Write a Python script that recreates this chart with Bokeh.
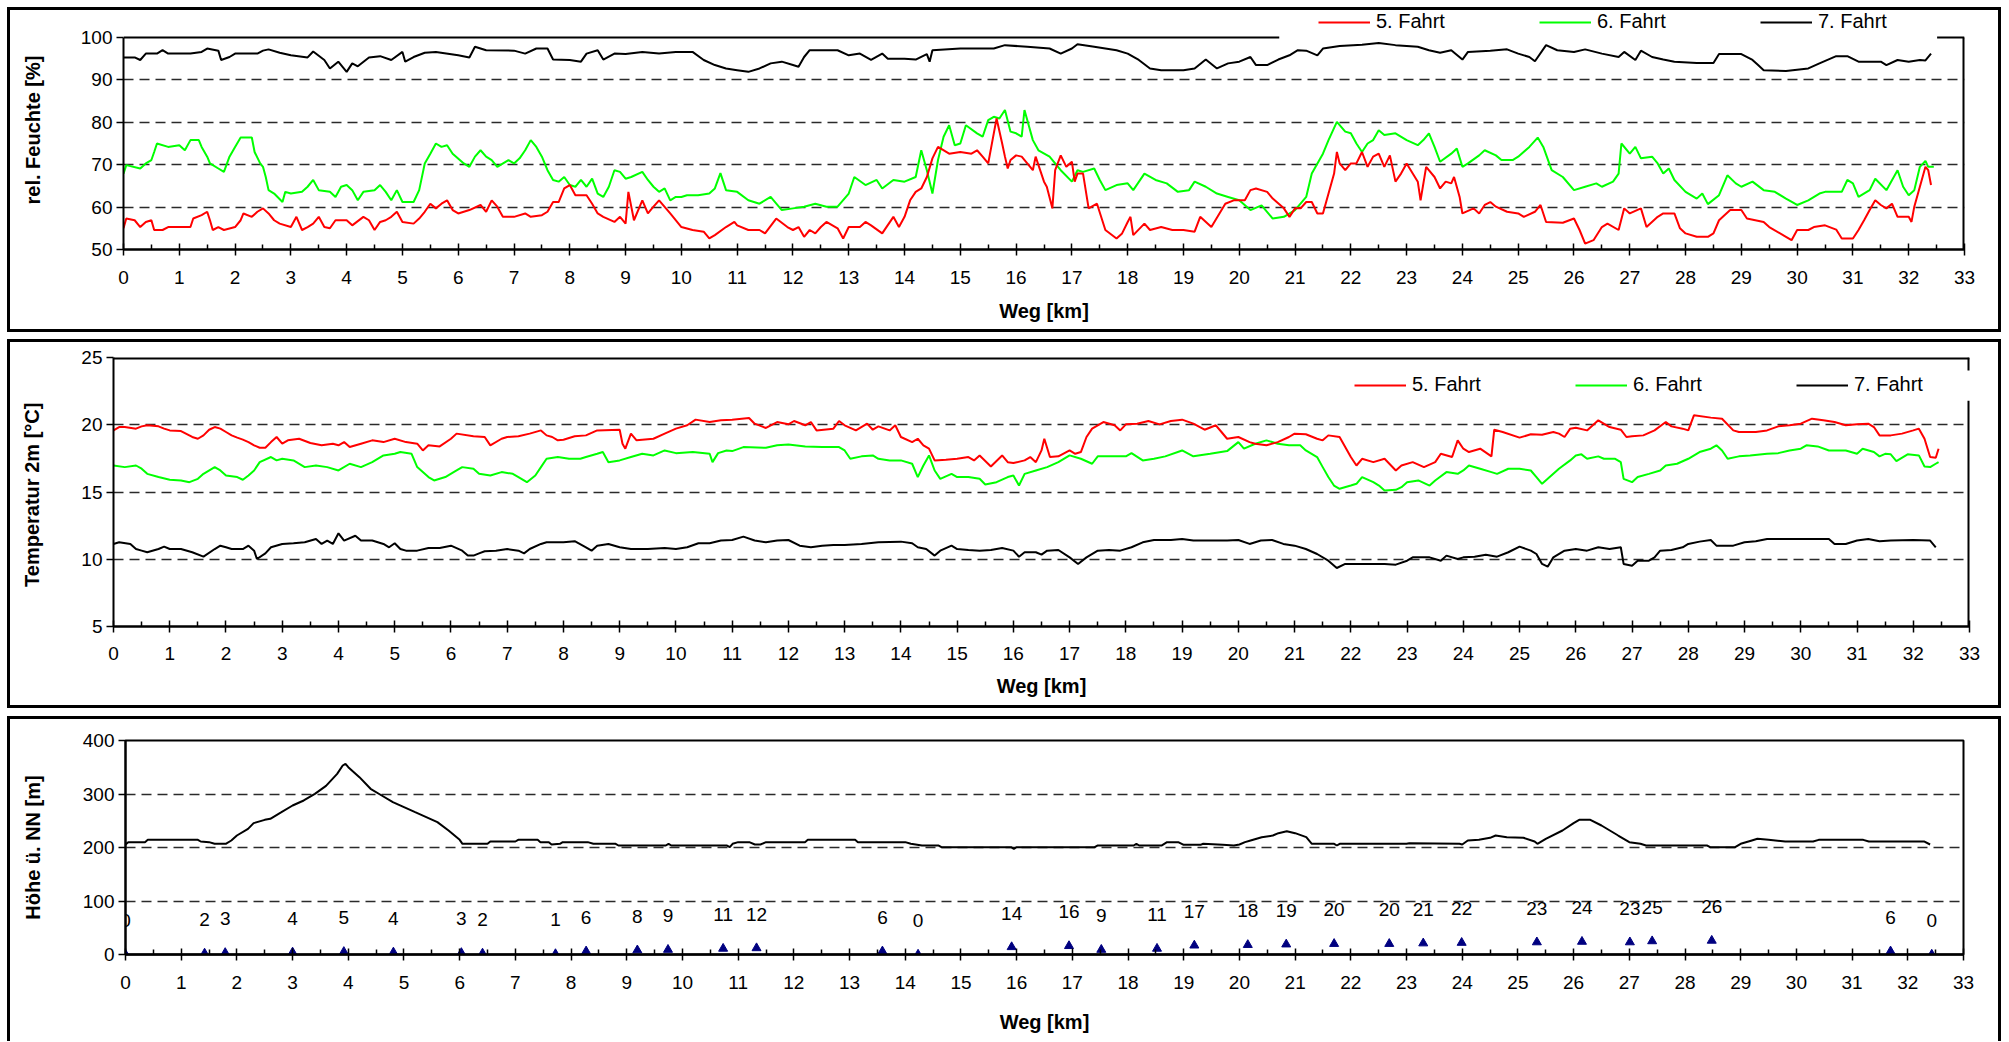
from bokeh.plotting import figure
from bokeh.models import Range1d, FixedTicker, Legend, LegendItem
from bokeh.embed import file_html
from bokeh.resources import INLINE
from bokeh.core.properties import value

FONT = "Liberation Sans"
RED, GREEN, BLACK, NAVY = "#FF0000", "#00FF00", "#000000", "#000080"

x_ticks = list(range(0, 34))
hum_ticks = [50, 60, 70, 80, 90, 100]
temp_ticks = [5, 10, 15, 20, 25]
elev_ticks = [0, 100, 200, 300, 400]
legend_labels = ["5. Fahrt", "6. Fahrt", "7. Fahrt"]

# ---- rel. Feuchte [%]  (km, value)
hum5 = [(0,55.0),(0.05,57.3),(0.2,56.9),(0.3,55.3),(0.4,56.5),(0.5,56.9),(0.55,54.6),(0.7,54.6),(0.8,55.3),(1.2,55.3),(1.25,57.3),(1.4,58.1),(1.5,58.9),(1.55,56.9),(1.6,54.6),(1.7,55.3),(1.8,54.6),(2.0,55.3),(2.1,56.9),(2.15,58.5),(2.3,57.7),(2.4,58.9),(2.5,59.7),(2.6,58.5),(2.7,56.9),(2.8,56.1),(3.0,55.3),(3.1,57.7),(3.2,54.6),(3.3,55.3),(3.4,56.1),(3.5,57.7),(3.6,55.3),(3.7,55.0),(3.8,56.9),(4.0,56.9),(4.1,55.7),(4.3,57.7),(4.4,56.9),(4.5,54.6),(4.6,56.5),(4.7,56.9),(4.8,57.7),(4.9,58.9),(5.0,56.5),(5.2,56.1),(5.3,57.3),(5.4,58.9),(5.5,60.8),(5.6,59.7),(5.7,60.8),(5.8,61.6),(5.9,59.3),(6.0,58.5),(6.2,59.3),(6.4,60.5),(6.5,58.9),(6.6,61.6),(6.7,60.1),(6.8,57.7),(7.0,57.7),(7.2,58.5),(7.3,57.7),(7.5,58.1),(7.6,58.9),(7.7,61.2),(7.8,61.2),(7.9,64.4),(8.0,65.2),(8.1,62.8),(8.3,62.8),(8.4,60.8),(8.5,58.5),(8.6,57.7),(8.8,56.5),(8.9,57.7),(9.0,56.1),(9.05,63.6),(9.15,56.9),(9.3,61.6),(9.4,58.5),(9.5,60.1),(9.6,61.6),(9.8,58.5),(10.0,55.3),(10.2,54.6),(10.4,54.2),(10.5,52.6),(10.6,53.4),(10.8,55.3),(10.95,56.5),(11.0,55.7),(11.2,54.6),(11.4,54.6),(11.5,53.8),(11.7,57.3),(11.9,55.3),(12.0,54.6),(12.1,55.3),(12.2,53.0),(12.3,54.6),(12.4,53.8),(12.5,55.3),(12.6,56.5),(12.8,55.0),(12.9,52.6),(13.0,55.3),(13.2,55.3),(13.3,56.5),(13.4,55.7),(13.6,53.8),(13.8,57.7),(13.9,55.3),(14.0,57.7),(14.1,61.6),(14.2,63.6),(14.3,64.4),(14.4,67.1),(14.5,71.5),(14.6,74.2),(14.8,72.6),(15.0,73.0),(15.2,72.6),(15.3,73.4),(15.4,71.9),(15.5,70.3),(15.6,77.4),(15.65,80.9),(15.75,75.0),(15.8,71.9),(15.85,69.1),(15.9,71.1),(16.0,72.2),(16.1,71.9),(16.2,70.3),(16.3,68.7),(16.35,71.9),(16.5,66.0),(16.55,64.8),(16.65,59.7),(16.7,68.7),(16.8,72.2),(16.9,69.5),(17.0,70.7),(17.05,66.0),(17.1,67.9),(17.2,67.9),(17.3,59.7),(17.45,60.8),(17.6,54.6),(17.8,52.6),(17.9,53.8),(18.0,56.5),(18.05,57.7),(18.1,53.4),(18.3,56.1),(18.4,54.6),(18.6,55.3),(18.8,54.6),(19.0,54.6),(19.2,54.2),(19.3,57.7),(19.5,55.3),(19.75,60.8),(19.9,61.6),(20.1,61.6),(20.2,64.0),(20.3,64.4),(20.5,63.6),(20.6,62.0),(20.8,59.7),(20.9,57.7),(21.0,59.7),(21.1,59.7),(21.2,61.2),(21.3,61.2),(21.4,58.5),(21.5,58.5),(21.6,63.2),(21.7,67.9),(21.75,73.0),(21.8,70.3),(21.9,68.7),(22.0,70.3),(22.1,70.3),(22.2,73.0),(22.3,69.5),(22.4,71.9),(22.5,72.6),(22.6,69.5),(22.7,72.2),(22.8,66.0),(22.9,67.9),(23.0,70.3),(23.2,66.0),(23.25,61.6),(23.35,69.5),(23.5,67.1),(23.6,64.4),(23.7,66.0),(23.8,65.6),(23.85,67.1),(23.95,62.4),(24.0,58.5),(24.2,59.7),(24.3,58.5),(24.4,60.5),(24.5,61.2),(24.6,60.1),(24.8,58.9),(25.0,58.5),(25.1,57.7),(25.3,58.9),(25.4,60.5),(25.5,56.5),(25.8,56.3),(26.0,57.3),(26.1,54.6),(26.2,51.4),(26.35,52.2),(26.5,55.3),(26.6,56.1),(26.8,54.6),(26.9,59.7),(27.0,58.5),(27.2,59.7),(27.3,55.3),(27.5,57.7),(27.6,58.5),(27.8,58.5),(27.9,55.0),(28.0,53.8),(28.2,53.0),(28.4,53.0),(28.5,53.8),(28.6,56.9),(28.8,59.3),(29.0,59.3),(29.1,57.3),(29.4,56.5),(29.5,55.3),(29.8,53.0),(29.9,52.2),(30.0,54.6),(30.2,54.6),(30.3,55.3),(30.5,55.7),(30.7,54.7),(30.8,52.6),(31.0,52.6),(31.1,54.6),(31.2,56.9),(31.3,59.3),(31.4,61.6),(31.5,60.5),(31.6,59.7),(31.7,60.8),(31.8,57.7),(32.0,57.7),(32.05,56.5),(32.1,60.1),(32.2,64.8),(32.3,69.5),(32.35,68.7),(32.4,65.2)]

hum6 = [(0,67.9),(0.05,69.9),(0.3,69.1),(0.4,70.3),(0.5,71.1),(0.55,73.0),(0.6,75.0),(0.8,74.2),(1.0,74.6),(1.1,73.4),(1.2,75.8),(1.35,75.8),(1.4,74.2),(1.5,71.9),(1.55,70.3),(1.7,69.1),(1.8,68.3),(1.9,71.9),(2.0,74.2),(2.1,76.4),(2.3,76.4),(2.35,73.0),(2.45,70.3),(2.5,69.5),(2.55,67.1),(2.6,64.0),(2.7,63.2),(2.85,61.2),(2.9,63.6),(3.0,63.2),(3.2,63.6),(3.3,64.8),(3.4,66.4),(3.5,64.0),(3.7,63.6),(3.8,62.4),(3.9,64.8),(4.0,65.2),(4.1,64.0),(4.2,61.6),(4.3,63.6),(4.5,64.0),(4.6,65.2),(4.7,63.6),(4.8,61.6),(4.9,64.0),(5.0,61.2),(5.2,61.2),(5.3,64.0),(5.4,70.3),(5.5,72.6),(5.6,75.0),(5.7,74.2),(5.8,74.6),(5.9,72.6),(6.1,70.3),(6.2,69.5),(6.3,71.9),(6.4,73.4),(6.5,71.9),(6.6,71.1),(6.7,69.5),(6.9,71.1),(7.0,70.3),(7.1,71.5),(7.2,73.4),(7.3,75.8),(7.4,74.2),(7.5,71.9),(7.6,68.7),(7.7,66.4),(7.8,66.0),(7.9,67.1),(8.0,65.2),(8.1,64.8),(8.2,66.4),(8.3,64.8),(8.4,66.7),(8.5,63.2),(8.6,62.4),(8.7,64.8),(8.8,68.7),(8.9,68.3),(9.0,66.7),(9.1,67.1),(9.3,68.3),(9.4,66.4),(9.5,64.8),(9.6,63.6),(9.7,64.4),(9.8,61.6),(9.9,62.4),(10.0,62.4),(10.1,62.8),(10.3,62.8),(10.5,63.2),(10.6,64.4),(10.7,68.0),(10.8,64.0),(11.0,63.6),(11.2,61.6),(11.4,60.8),(11.6,62.4),(11.8,59.3),(12.0,59.7),(12.2,60.1),(12.4,60.8),(12.6,60.1),(12.8,60.1),(13.0,63.2),(13.1,67.1),(13.3,65.2),(13.5,66.4),(13.6,64.4),(13.8,66.4),(14.0,66.0),(14.2,67.1),(14.3,73.4),(14.4,68.7),(14.5,63.2),(14.6,71.1),(14.7,76.6),(14.8,79.3),(14.9,74.6),(15.0,75.0),(15.1,79.3),(15.3,77.4),(15.4,76.6),(15.5,80.5),(15.6,81.3),(15.7,80.9),(15.8,82.9),(15.9,77.8),(16.0,77.4),(16.1,76.6),(16.15,82.9),(16.3,75.8),(16.4,73.4),(16.6,71.9),(16.8,68.7),(17.0,66.0),(17.1,68.7),(17.2,68.3),(17.4,69.1),(17.5,66.4),(17.6,64.0),(17.8,65.2),(18.0,65.6),(18.1,64.0),(18.3,67.9),(18.5,66.4),(18.7,65.6),(18.9,63.6),(19.1,64.0),(19.2,66.0),(19.4,64.8),(19.6,63.2),(19.8,62.4),(20.0,61.6),(20.2,59.3),(20.4,60.4),(20.6,57.3),(20.8,57.7),(21.0,59.3),(21.2,62.4),(21.3,67.9),(21.5,72.6),(21.6,75.8),(21.75,80.1),(21.9,77.8),(22.0,77.4),(22.1,75.0),(22.2,73.0),(22.3,75.0),(22.4,75.8),(22.5,78.1),(22.6,77.0),(22.8,77.4),(23.0,75.8),(23.2,74.6),(23.3,75.8),(23.4,77.4),(23.5,74.2),(23.6,70.7),(23.8,72.6),(23.9,73.8),(24.0,69.5),(24.1,70.3),(24.3,72.2),(24.4,73.4),(24.6,72.2),(24.7,71.1),(24.9,71.1),(25.0,71.9),(25.2,74.2),(25.35,76.4),(25.45,74.2),(25.6,68.7),(25.8,67.1),(26.0,64.0),(26.2,64.8),(26.4,65.6),(26.5,64.8),(26.7,66.0),(26.8,67.9),(26.85,75.0),(27.0,72.6),(27.1,74.2),(27.2,71.5),(27.4,71.9),(27.5,70.3),(27.6,67.9),(27.7,69.1),(27.8,66.4),(28.0,63.6),(28.2,62.0),(28.3,63.2),(28.4,60.7),(28.6,62.8),(28.75,67.5),(28.9,65.6),(29.0,64.8),(29.2,66.0),(29.4,64.0),(29.6,63.6),(29.8,62.0),(30.0,60.5),(30.2,61.6),(30.4,63.2),(30.5,63.6),(30.8,63.6),(30.9,66.4),(31.0,65.6),(31.1,62.4),(31.3,64.0),(31.4,66.7),(31.6,64.0),(31.8,68.7),(31.9,64.8),(32.0,62.8),(32.1,64.0),(32.2,69.5),(32.3,70.9),(32.35,69.5),(32.45,69.5)]

hum7 = [(0,95.3),(0.2,95.3),(0.3,94.7),(0.4,96.2),(0.6,96.2),(0.7,97.0),(0.8,96.2),(1.2,96.2),(1.4,96.6),(1.5,97.4),(1.7,96.9),(1.75,94.7),(1.9,95.4),(2.0,96.2),(2.4,96.2),(2.5,96.9),(2.6,97.2),(2.8,96.4),(3.0,95.8),(3.3,95.3),(3.4,96.7),(3.6,94.7),(3.7,92.7),(3.85,94.3),(4.0,91.9),(4.1,93.9),(4.2,93.2),(4.4,95.3),(4.6,95.6),(4.8,94.7),(5.0,96.6),(5.05,94.3),(5.2,95.4),(5.4,96.4),(5.6,96.6),(6.0,95.8),(6.2,95.3),(6.3,97.8),(6.5,97.0),(7.0,96.9),(7.2,96.2),(7.4,97.4),(7.6,97.4),(7.7,94.8),(8.0,94.7),(8.2,94.3),(8.3,96.2),(8.5,97.0),(8.6,94.8),(8.8,96.2),(9.0,96.1),(9.3,96.6),(9.6,96.2),(9.9,96.6),(10.2,96.6),(10.4,94.7),(10.6,93.5),(10.8,92.7),(11.0,92.3),(11.2,91.9),(11.4,92.7),(11.6,93.9),(11.8,94.3),(12.0,93.5),(12.1,93.1),(12.2,95.4),(12.3,97.0),(12.8,97.0),(13.0,95.8),(13.2,96.2),(13.4,94.7),(13.6,96.2),(13.7,95.0),(14.0,95.0),(14.2,94.8),(14.4,96.1),(14.45,94.3),(14.5,97.0),(15.0,97.4),(15.6,97.4),(15.8,98.2),(16.2,97.8),(16.6,97.4),(16.8,96.2),(17.0,97.4),(17.1,98.4),(17.4,97.8),(17.8,97.0),(18.0,96.2),(18.2,94.7),(18.4,92.7),(18.6,92.3),(19.0,92.3),(19.2,92.7),(19.4,94.8),(19.6,92.7),(19.8,93.9),(20.0,94.3),(20.2,95.4),(20.3,93.5),(20.5,93.5),(20.7,94.8),(20.9,95.8),(21.05,97.0),(21.2,96.9),(21.4,95.8),(21.5,97.4),(21.8,98.0),(22.2,98.3),(22.5,98.7),(22.8,98.2),(23.2,97.8),(23.4,97.0),(23.6,96.4),(23.8,97.0),(24.0,94.8),(24.1,96.6),(24.5,96.9),(24.8,97.2),(25.0,96.2),(25.2,95.4),(25.3,94.4),(25.5,98.2),(25.7,97.0),(26.0,96.6),(26.2,97.2),(26.5,96.2),(26.8,95.4),(26.9,96.6),(27.1,94.7),(27.2,96.9),(27.4,95.4),(27.6,94.8),(27.8,94.3),(28.2,94.0),(28.5,94.0),(28.6,96.1),(29.0,96.1),(29.2,94.7),(29.3,93.5),(29.4,92.3),(29.8,92.1),(30.2,92.7),(30.4,93.9),(30.7,95.6),(30.9,95.6),(31.1,94.3),(31.5,94.3),(31.6,93.5),(31.8,94.7),(32.0,94.3),(32.2,94.7),(32.3,94.6),(32.4,96.2)]

# ---- Temperatur 2m [°C]
temp5 = [(0,19.58),(0.1,19.83),(0.2,19.83),(0.4,19.71),(0.5,19.88),(0.6,19.96),(0.8,19.88),(0.9,19.71),(1.0,19.58),(1.2,19.53),(1.4,19.09),(1.5,18.96),(1.6,19.21),(1.7,19.63),(1.8,19.83),(1.9,19.71),(2.0,19.46),(2.1,19.21),(2.2,19.04),(2.3,18.89),(2.4,18.71),(2.5,18.47),(2.6,18.29),(2.7,18.29),(2.8,18.71),(2.9,19.09),(3.0,18.59),(3.1,18.84),(3.3,18.96),(3.5,18.64),(3.7,18.47),(3.9,18.59),(4.0,18.47),(4.1,18.71),(4.2,18.34),(4.4,18.59),(4.6,18.84),(4.8,18.71),(5.0,18.96),(5.2,18.71),(5.4,18.59),(5.5,18.09),(5.6,18.47),(5.8,18.39),(6.0,18.96),(6.1,19.34),(6.4,19.14),(6.6,19.09),(6.7,18.47),(6.9,18.96),(7.0,19.09),(7.2,19.14),(7.4,19.34),(7.6,19.58),(7.7,19.21),(7.8,19.09),(7.9,18.84),(8.0,18.89),(8.2,19.14),(8.4,19.21),(8.6,19.58),(9.0,19.63),(9.05,18.59),(9.1,18.22),(9.2,19.34),(9.3,18.84),(9.6,18.96),(9.8,19.34),(10.0,19.71),(10.2,19.96),(10.35,20.38),(10.6,20.20),(10.8,20.33),(11.0,20.38),(11.3,20.50),(11.4,20.08),(11.6,19.76),(11.8,20.20),(12.0,20.03),(12.1,20.28),(12.3,19.96),(12.4,20.20),(12.5,19.58),(12.8,19.71),(12.9,20.28),(13.0,19.96),(13.2,19.58),(13.4,20.08),(13.5,19.63),(13.6,19.88),(13.8,19.58),(13.9,19.96),(14.0,19.09),(14.2,18.71),(14.3,18.96),(14.4,18.47),(14.5,18.22),(14.6,17.35),(14.8,17.40),(15.0,17.47),(15.2,17.60),(15.3,17.35),(15.4,17.72),(15.6,16.90),(15.8,17.72),(15.9,17.22),(16.0,17.15),(16.2,17.35),(16.3,17.60),(16.4,17.22),(16.5,18.09),(16.55,18.96),(16.65,17.60),(16.8,17.65),(17.0,18.09),(17.1,17.84),(17.2,17.97),(17.3,19.09),(17.4,19.71),(17.6,20.20),(17.8,19.96),(17.9,19.58),(18.0,20.03),(18.2,20.08),(18.4,20.28),(18.6,20.03),(18.8,20.28),(19.0,20.38),(19.2,20.08),(19.4,19.63),(19.6,19.96),(19.7,19.46),(19.8,18.96),(20.0,19.09),(20.2,18.71),(20.3,18.59),(20.5,18.47),(20.7,18.71),(20.9,19.09),(21.0,19.34),(21.2,19.29),(21.4,18.96),(21.5,18.84),(21.6,19.21),(21.8,19.09),(22.0,17.60),(22.1,16.97),(22.2,17.47),(22.4,17.22),(22.6,17.47),(22.8,16.60),(22.9,16.97),(23.1,17.22),(23.3,16.85),(23.5,17.22),(23.6,17.84),(23.8,17.60),(23.9,18.84),(24.0,18.22),(24.1,17.97),(24.3,18.22),(24.5,17.65),(24.55,19.63),(24.7,19.46),(25.0,19.04),(25.2,19.29),(25.4,19.26),(25.6,19.46),(25.7,19.34),(25.8,19.09),(25.9,19.71),(26.0,19.78),(26.2,19.58),(26.4,20.33),(26.6,19.83),(26.8,19.63),(26.9,19.09),(27.0,19.14),(27.2,19.21),(27.4,19.58),(27.6,20.20),(27.7,19.88),(27.9,19.71),(28.0,19.58),(28.1,20.70),(28.4,20.53),(28.6,20.45),(28.8,19.58),(28.9,19.46),(29.2,19.46),(29.4,19.58),(29.6,19.88),(29.8,19.96),(30.0,20.08),(30.2,20.45),(30.4,20.33),(30.6,20.20),(30.8,19.96),(31.0,20.03),(31.2,20.08),(31.3,19.83),(31.4,19.21),(31.6,19.21),(31.8,19.34),(32.0,19.58),(32.1,19.71),(32.2,18.96),(32.3,17.60),(32.4,17.55),(32.45,18.22)]

temp6 = [(0,16.97),(0.2,16.85),(0.4,16.97),(0.5,16.73),(0.6,16.35),(0.8,16.11),(1.0,15.91),(1.2,15.86),(1.35,15.73),(1.5,15.98),(1.6,16.35),(1.8,16.85),(1.9,16.60),(2.0,16.23),(2.2,16.11),(2.3,15.91),(2.4,16.23),(2.5,16.60),(2.6,17.22),(2.8,17.60),(2.9,17.35),(3.0,17.47),(3.2,17.35),(3.4,16.85),(3.6,16.97),(3.8,16.85),(4.0,16.60),(4.2,17.10),(4.4,16.85),(4.6,17.22),(4.8,17.72),(5.0,17.84),(5.1,17.97),(5.3,17.84),(5.4,16.85),(5.6,16.11),(5.7,15.86),(5.9,16.11),(6.1,16.60),(6.2,16.85),(6.4,16.73),(6.5,16.35),(6.7,16.23),(6.9,16.48),(7.1,16.35),(7.2,16.11),(7.35,15.73),(7.5,16.23),(7.6,16.85),(7.7,17.47),(7.9,17.60),(8.1,17.47),(8.3,17.47),(8.4,17.60),(8.6,17.84),(8.7,17.97),(8.8,17.22),(9.0,17.35),(9.2,17.60),(9.4,17.84),(9.6,17.72),(9.8,18.09),(10.0,17.89),(10.3,17.97),(10.6,17.84),(10.65,17.22),(10.75,17.89),(10.9,18.09),(11.0,18.04),(11.2,18.34),(11.6,18.29),(11.8,18.47),(12.0,18.54),(12.3,18.39),(12.6,18.34),(12.9,18.34),(13.0,18.09),(13.1,17.47),(13.3,17.65),(13.5,17.72),(13.6,17.47),(13.8,17.35),(14.0,17.35),(14.2,17.10),(14.3,16.11),(14.4,16.97),(14.5,17.72),(14.6,16.60),(14.7,15.98),(14.9,16.35),(15.0,16.11),(15.2,16.11),(15.4,15.98),(15.5,15.56),(15.7,15.73),(15.9,16.11),(16.0,16.23),(16.1,15.48),(16.2,16.35),(16.4,16.60),(16.6,16.85),(16.8,17.22),(17.0,17.72),(17.2,17.47),(17.4,17.10),(17.5,17.65),(18.0,17.65),(18.1,17.89),(18.3,17.35),(18.5,17.47),(18.7,17.65),(19.0,18.09),(19.2,17.65),(19.5,17.84),(19.8,18.04),(20.0,18.71),(20.1,18.22),(20.3,18.59),(20.5,18.84),(20.7,18.59),(20.9,18.47),(21.1,18.47),(21.2,18.09),(21.4,17.60),(21.5,16.85),(21.6,16.11),(21.7,15.48),(21.8,15.24),(22.0,15.48),(22.1,15.61),(22.2,16.11),(22.4,15.73),(22.5,15.48),(22.6,15.11),(22.8,15.16),(22.9,15.36),(23.0,15.73),(23.2,15.86),(23.4,15.48),(23.5,15.86),(23.7,16.48),(23.9,16.35),(24.0,16.60),(24.1,16.97),(24.3,16.73),(24.5,16.48),(24.6,16.35),(24.8,16.73),(25.0,16.73),(25.2,16.60),(25.3,16.11),(25.4,15.61),(25.5,15.98),(25.7,16.73),(25.9,17.35),(26.0,17.72),(26.1,17.80),(26.2,17.47),(26.4,17.65),(26.5,17.47),(26.7,17.47),(26.8,17.22),(26.85,15.98),(27.0,15.73),(27.1,16.11),(27.3,16.35),(27.5,16.60),(27.6,16.97),(27.8,17.10),(28.0,17.47),(28.2,17.97),(28.4,18.22),(28.5,18.47),(28.6,18.09),(28.7,17.47),(28.9,17.65),(29.1,17.72),(29.4,17.84),(29.6,17.89),(29.8,18.09),(30.0,18.22),(30.1,18.47),(30.3,18.39),(30.5,18.09),(30.8,18.09),(31.0,17.84),(31.1,18.22),(31.3,17.97),(31.4,17.65),(31.5,17.84),(31.6,17.80),(31.7,17.30),(31.9,17.80),(32.1,17.72),(32.2,16.90),(32.3,16.85),(32.4,17.10),(32.45,17.22)]

temp7 = [(0,11.14),(0.1,11.26),(0.3,11.14),(0.4,10.76),(0.5,10.64),(0.6,10.52),(0.8,10.76),(0.9,10.94),(1.0,10.76),(1.2,10.76),(1.4,10.52),(1.6,10.19),(1.8,10.76),(1.9,11.01),(2.0,10.89),(2.1,10.76),(2.3,10.76),(2.4,11.01),(2.5,10.64),(2.55,10.02),(2.7,10.44),(2.8,10.89),(3.0,11.14),(3.2,11.19),(3.4,11.26),(3.6,11.51),(3.7,11.14),(3.8,11.39),(3.9,11.14),(4.0,11.93),(4.1,11.39),(4.3,11.75),(4.4,11.39),(4.6,11.39),(4.8,11.14),(4.9,10.89),(5.0,11.19),(5.1,10.76),(5.2,10.64),(5.4,10.64),(5.6,10.84),(5.8,10.84),(6.0,11.01),(6.2,10.64),(6.3,10.27),(6.4,10.27),(6.5,10.44),(6.6,10.59),(6.8,10.64),(7.0,10.76),(7.2,10.64),(7.3,10.44),(7.4,10.76),(7.6,11.14),(7.7,11.26),(8.0,11.26),(8.2,11.34),(8.4,10.89),(8.5,10.64),(8.6,11.01),(8.8,11.14),(9.0,10.89),(9.2,10.76),(9.5,10.76),(9.8,10.84),(10.0,10.76),(10.2,10.89),(10.4,11.19),(10.6,11.19),(10.8,11.39),(11.0,11.43),(11.2,11.68),(11.4,11.39),(11.6,11.26),(11.8,11.39),(12.0,11.43),(12.2,11.01),(12.4,10.89),(12.6,11.01),(12.8,11.06),(13.0,11.06),(13.3,11.14),(13.6,11.26),(14.0,11.31),(14.2,11.19),(14.3,10.89),(14.45,10.76),(14.6,10.27),(14.7,10.64),(14.9,11.01),(15.0,10.76),(15.2,10.69),(15.4,10.64),(15.6,10.69),(15.8,10.84),(16.0,10.64),(16.1,10.19),(16.2,10.52),(16.4,10.52),(16.5,10.34),(16.6,10.64),(16.8,10.69),(17.0,10.14),(17.15,9.65),(17.3,10.14),(17.5,10.64),(17.7,10.69),(17.9,10.64),(18.1,10.89),(18.3,11.26),(18.5,11.43),(18.8,11.43),(19.0,11.51),(19.2,11.39),(19.5,11.39),(19.8,11.39),(20.0,11.43),(20.2,11.14),(20.4,11.39),(20.6,11.43),(20.8,11.14),(21.0,11.01),(21.2,10.76),(21.4,10.39),(21.6,9.89),(21.75,9.35),(21.9,9.65),(22.3,9.65),(22.6,9.65),(22.8,9.60),(23.0,9.89),(23.1,10.14),(23.4,10.14),(23.6,9.89),(23.7,10.27),(23.9,10.02),(24.0,10.14),(24.2,10.19),(24.4,10.34),(24.6,10.19),(24.8,10.52),(25.0,10.94),(25.2,10.64),(25.3,10.39),(25.4,9.65),(25.5,9.45),(25.6,10.14),(25.8,10.64),(26.0,10.76),(26.2,10.64),(26.4,10.89),(26.6,10.76),(26.8,10.89),(26.85,9.65),(27.0,9.52),(27.1,9.89),(27.3,9.89),(27.4,10.14),(27.5,10.64),(27.7,10.69),(27.9,10.89),(28.0,11.14),(28.2,11.31),(28.4,11.43),(28.5,11.01),(28.8,11.01),(29.0,11.26),(29.2,11.34),(29.4,11.51),(30.5,11.51),(30.6,11.14),(30.8,11.14),(31.0,11.39),(31.2,11.51),(31.4,11.34),(31.6,11.39),(32.0,11.43),(32.3,11.39),(32.4,10.89)]

# ---- Höhe ü. NN [m]
elev = [(0,205.6),(0.05,210.0),(0.35,210.0),(0.4,214.3),(1.3,214.3),(1.35,211.2),(1.5,210.0),(1.6,206.9),(1.8,206.9),(1.9,213.1),(2.0,222.4),(2.2,234.9),(2.3,245.5),(2.5,251.7),(2.6,253.6),(2.8,266.0),(3.0,278.5),(3.2,287.9),(3.4,300.3),(3.6,315.3),(3.8,337.7),(3.9,353.3),(3.95,356.4),(4.0,350.2),(4.2,331.5),(4.4,309.7),(4.6,297.2),(4.8,284.7),(5.0,275.4),(5.2,266.0),(5.4,256.7),(5.6,247.4),(5.8,231.8),(6.0,214.3),(6.05,206.9),(6.5,206.9),(6.55,211.2),(7.0,211.2),(7.05,214.3),(7.4,214.3),(7.45,210.0),(7.6,210.0),(7.65,205.6),(7.8,206.9),(7.85,210.0),(8.3,210.0),(8.4,206.9),(8.8,206.9),(8.85,203.7),(9.7,203.7),(9.75,206.9),(9.8,203.7),(10.8,203.7),(10.85,200.6),(10.9,206.9),(11.0,210.0),(11.2,210.0),(11.3,205.6),(11.4,205.6),(11.5,210.0),(12.2,210.0),(12.25,214.3),(13.1,214.3),(13.15,210.0),(14.0,210.0),(14.1,206.9),(14.3,203.7),(14.6,203.7),(14.65,200.6),(15.9,200.6),(15.95,197.5),(16.0,200.6),(17.4,200.6),(17.45,203.7),(18.1,203.7),(18.15,206.9),(18.2,203.7),(18.6,203.7),(18.7,210.0),(18.9,210.0),(19.0,205.0),(19.3,205.0),(19.35,206.9),(19.7,205.0),(19.9,203.7),(20.0,205.6),(20.1,210.0),(20.2,213.1),(20.4,219.3),(20.6,222.4),(20.7,226.8),(20.85,230.5),(21.0,226.8),(21.2,219.3),(21.3,206.9),(21.7,206.9),(21.75,203.7),(21.8,206.9),(23.0,206.9),(23.05,208.0),(23.95,206.9),(24.0,205.6),(24.1,213.1),(24.3,214.3),(24.5,218.1),(24.6,222.4),(24.8,219.3),(25.1,218.1),(25.3,211.2),(25.35,206.9),(25.5,216.2),(25.8,231.8),(26.0,245.5),(26.1,251.7),(26.3,251.7),(26.5,241.1),(26.8,222.4),(27.0,210.0),(27.2,206.9),(27.3,203.7),(28.4,203.7),(28.45,200.6),(28.9,200.6),(29.0,206.9),(29.2,213.1),(29.3,216.2),(29.5,214.3),(29.8,211.2),(30.3,211.2),(30.4,214.3),(31.2,214.3),(31.3,211.2),(32.3,211.2),(32.4,205.6)]

stop_km = [0.0, 1.42, 1.79, 3.0, 3.92, 4.81, 6.03, 6.41, 7.72, 8.27, 9.19, 9.74, 10.73, 11.33, 13.59, 14.23, 15.91, 16.94, 17.52, 18.52, 19.19, 20.15, 20.84, 21.70, 22.69, 23.30, 23.99, 25.34, 26.15, 27.01, 27.41, 28.48, 31.69, 32.43]
stop_val = [0, 2, 3, 4, 5, 4, 3, 2, 1, 6, 8, 9, 11, 12, 6, 0, 14, 16, 9, 11, 17, 18, 19, 20, 20, 21, 22, 23, 24, 23, 25, 26, 6, 0]


def xs(series):
    return [a for a, b in series]


def ys(series):
    return [b for a, b in series]


def make_fig(height, ml, mr, mt, mb, yr, yticks, ylabel, label_standoff,
             tick_standoff, xlabel_standoff, styles):
    p = figure(width=1994, height=height, output_backend="svg", toolbar_location=None,
               x_range=Range1d(0, 33), y_range=Range1d(*yr),
               min_border_left=ml, min_border_right=mr, min_border_top=mt, min_border_bottom=mb,
               styles=styles)
    p.outline_line_color = "black"
    p.outline_line_width = 2
    p.xgrid.visible = False
    p.ygrid.ticker = FixedTicker(ticks=yticks[1:-1])
    p.ygrid.grid_line_color = "#2a2a2a"
    p.ygrid.grid_line_dash = "10 6"
    p.ygrid.grid_line_width = 1.4
    p.xaxis.ticker = FixedTicker(ticks=x_ticks, minor_ticks=[t + 0.5 for t in x_ticks[:-1]])
    p.yaxis.ticker = FixedTicker(ticks=yticks, minor_ticks=[])
    p.xaxis.axis_label = "Weg [km]"
    p.yaxis.axis_label = ylabel
    for ax in (p.xaxis, p.yaxis):
        ax.major_label_text_font = FONT
        ax.major_label_text_font_size = "19px"
        ax.major_label_text_color = "black"
        ax.axis_label_text_font = FONT
        ax.axis_label_text_font_size = "20px"
        ax.axis_label_text_font_style = "bold"
        ax.axis_label_text_color = "black"
        ax.axis_line_color = "black"
        ax.major_tick_line_color = "black"
        ax.minor_tick_line_color = "black"
        ax.major_tick_line_width = 1.5
        ax.minor_tick_line_width = 1.5
    p.xaxis.axis_line_width = 2.5
    p.xaxis.major_tick_in = 6
    p.xaxis.major_tick_out = 6
    p.xaxis.minor_tick_in = 5
    p.xaxis.minor_tick_out = 0
    p.xaxis.major_label_standoff = tick_standoff
    p.xaxis.axis_label_standoff = xlabel_standoff
    p.yaxis.axis_line_width = 2
    p.yaxis.major_tick_in = 0
    p.yaxis.major_tick_out = 7
    p.yaxis.major_label_standoff = 4
    p.yaxis.axis_label_standoff = label_standoff
    p.yaxis.bounds = (yticks[0], yticks[-1])
    return p


def make_legend(renderers, loc):
    return Legend(items=[LegendItem(label=l, renderers=[r]) for l, r in zip(legend_labels, renderers)],
                  orientation="horizontal", location=loc,
                  label_text_font=FONT, label_text_font_size="20px", label_text_color="black",
                  glyph_width=52, glyph_height=20, label_standoff=6, label_width=100,
                  spacing=63, padding=6, margin=0,
                  border_line_color=None, background_fill_color="white", background_fill_alpha=1.0)


S1 = {"border": "3px solid black", "margin-left": "7px", "margin-top": "7px"}
S2 = {"border": "3px solid black", "margin-left": "7px", "margin-top": "7px"}
S3 = {"border": "3px solid black", "border-bottom": "none", "margin-left": "7px", "margin-top": "8px"}

PX_PER_KM = 55.8          # panel 1/2 horizontal scale (frame 1841 px / 33 km)

# Panel 1 : humidity (frame extended upward so that the legend sits above the plot box)
hum_top = hum_ticks[-1] + 27 / 4.24
p1 = make_fig(325, 113, 40, 0, 86, (hum_ticks[0], hum_top), hum_ticks, "rel. Feuchte [%]", 34, 15, 13, S1)
p1.outline_line_color = None
g1 = p1.line(xs(hum6), ys(hum6), line_color=GREEN, line_width=2)
r1 = p1.line(xs(hum5), ys(hum5), line_color=RED, line_width=2)
k1 = p1.line(xs(hum7), ys(hum7), line_color=BLACK, line_width=2)
gap1_a = (1279 - 123) / PX_PER_KM
gap1_b = (1937 - 123) / PX_PER_KM
p1.segment(x0=[x_ticks[0], gap1_b], y0=[hum_ticks[-1]] * 2, x1=[gap1_a, x_ticks[-1]], y1=[hum_ticks[-1]] * 2,
           line_color="black", line_width=2)
p1.segment(x0=[x_ticks[-1]], y0=[hum_ticks[0]], x1=[x_ticks[-1]], y1=[hum_ticks[-1]],
           line_color="black", line_width=4)
p1.add_layout(make_legend([r1, g1, k1], (1195, 216)))

# Panel 2 : temperature
p2 = make_fig(369, 103, 35, 15, 85, (temp_ticks[0], temp_ticks[-1]), temp_ticks, "Temperatur 2m  [°C]", 35, 14, 12, S2)
p2.outline_line_color = None
g2 = p2.line(xs(temp6), ys(temp6), line_color=GREEN, line_width=2)
r2 = p2.line(xs(temp5), ys(temp5), line_color=RED, line_width=2)
k2 = p2.line(xs(temp7), ys(temp7), line_color=BLACK, line_width=2)
t_px = 268 / (temp_ticks[-1] - temp_ticks[0])
gap2_hi = temp_ticks[-1] - (370 - 357) / t_px
gap2_lo = temp_ticks[-1] - (400 - 357) / t_px
p2.segment(x0=[x_ticks[0]], y0=[temp_ticks[-1]], x1=[x_ticks[-1]], y1=[temp_ticks[-1]],
           line_color="black", line_width=4)
p2.segment(x0=[x_ticks[-1]] * 2, y0=[temp_ticks[0], gap2_hi], x1=[x_ticks[-1]] * 2, y1=[gap2_lo, temp_ticks[-1]],
           line_color="black", line_width=4)
p2.add_layout(make_legend([r2, g2, k2], (1241, 230)))

# Panel 3 : elevation
p3 = make_fig(325, 115, 41, 21, 90, (elev_ticks[0], elev_ticks[-1]), elev_ticks, "Höhe ü. NN [m]", 36, 15, 19, S3)
p3.line(xs(elev), ys(elev), line_color=BLACK, line_width=2)
p3.scatter(stop_km, stop_val, marker="triangle", size=9, fill_color=NAVY, line_color=NAVY)
p3.text(stop_km, stop_val, text=[str(v) for v in stop_val], text_font=value(FONT),
        text_font_size="19px", text_align="center", text_baseline="middle",
        y_offset=-34, text_color="black")

open("out.html", "w").write(file_html([p1, p2, p3], INLINE))
